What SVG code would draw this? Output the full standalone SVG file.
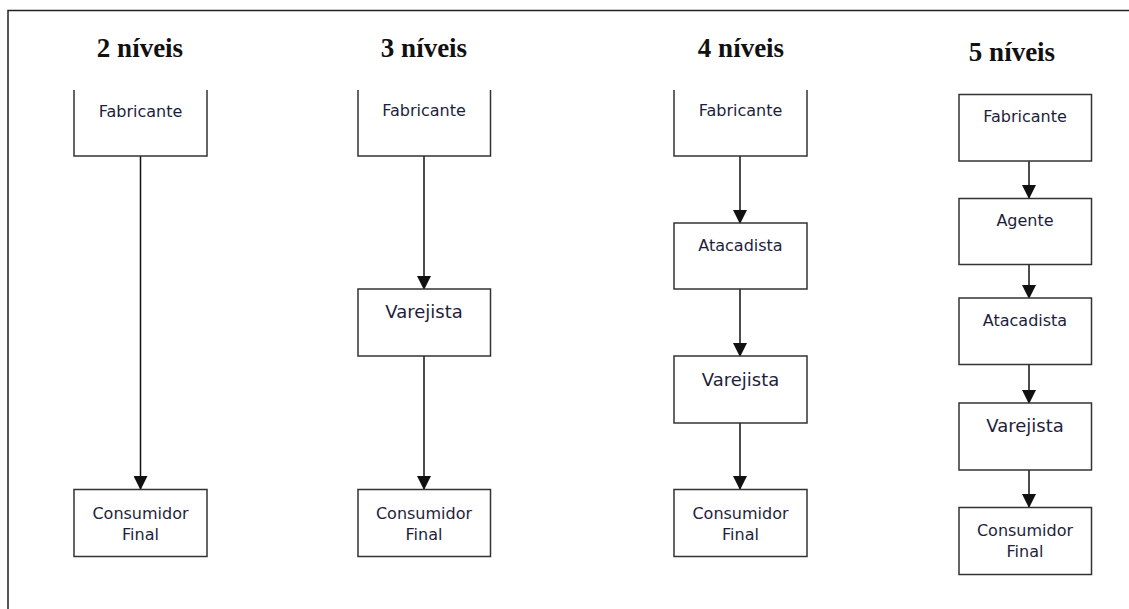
<svg xmlns="http://www.w3.org/2000/svg" width="1129" height="609" viewBox="0 0 1129 609">
<style>
.box{fill:#fff;stroke:#333;stroke-width:1.5}
.lbl{font-family:"DejaVu Sans",Verdana,sans-serif;font-size:16px;fill:#1e1e3c;text-anchor:middle}
.big{font-size:18px}
.title{font-family:"Liberation Serif","Times New Roman",serif;font-weight:bold;font-size:27px;fill:#111;text-anchor:middle}
.conn{stroke:#111;stroke-width:1.5;fill:none}
</style>
<defs>
<marker id="ah" markerUnits="userSpaceOnUse" markerWidth="14" markerHeight="14" refX="13" refY="7" orient="auto">
<path d="M0,0 L14,7 L0,14 Z" fill="#111"/>
</marker>
</defs>
<path d="M8,609 V10.5 H1129" fill="none" stroke="#222" stroke-width="1.5"/>
<g id="titles">
<text class="title" x="140" y="57">2 níveis</text>
<text class="title" x="424" y="57">3 níveis</text>
<text class="title" x="741" y="57">4 níveis</text>
<text class="title" x="1012" y="61">5 níveis</text>
</g>
<g id="connectors">
<line class="conn" x1="140.5" y1="156" x2="140.5" y2="489" marker-end="url(#ah)"/>
<line class="conn" x1="424" y1="156" x2="424" y2="289" marker-end="url(#ah)"/>
<line class="conn" x1="424" y1="356" x2="424" y2="489" marker-end="url(#ah)"/>
<line class="conn" x1="740" y1="156" x2="740" y2="223" marker-end="url(#ah)"/>
<line class="conn" x1="740" y1="289" x2="740" y2="356" marker-end="url(#ah)"/>
<line class="conn" x1="740" y1="423" x2="740" y2="489" marker-end="url(#ah)"/>
<line class="conn" x1="1029" y1="161" x2="1029" y2="198" marker-end="url(#ah)"/>
<line class="conn" x1="1029" y1="265" x2="1029" y2="298" marker-end="url(#ah)"/>
<line class="conn" x1="1029" y1="364" x2="1029" y2="403" marker-end="url(#ah)"/>
<line class="conn" x1="1029" y1="470" x2="1029" y2="507" marker-end="url(#ah)"/>
</g>
<g id="c1-fabricante"><path class="box" d="M74,90 V156 H207 V90"/><text class="lbl" x="140.5" y="117">Fabricante</text></g>
<g id="c1-consumidor"><rect class="box" x="74" y="489.5" width="133" height="67"/><text class="lbl" x="140.5" y="519">Consumidor</text><text class="lbl" x="140.5" y="540">Final</text></g>
<g id="c2-fabricante"><path class="box" d="M358,90 V156 H490.5 V90"/><text class="lbl" x="424" y="116">Fabricante</text></g>
<g id="c2-varejista"><rect class="box" x="358" y="289" width="132.5" height="67"/><text class="lbl big" x="424" y="318">Varejista</text></g>
<g id="c2-consumidor"><rect class="box" x="358" y="489.5" width="132.5" height="67"/><text class="lbl" x="424" y="519">Consumidor</text><text class="lbl" x="424" y="540">Final</text></g>
<g id="c3-fabricante"><path class="box" d="M674,90 V156 H807 V90"/><text class="lbl" x="740.5" y="116">Fabricante</text></g>
<g id="c3-atacadista"><rect class="box" x="674" y="223" width="133" height="66"/><text class="lbl" x="740.5" y="251">Atacadista</text></g>
<g id="c3-varejista"><rect class="box" x="674" y="356" width="133" height="67"/><text class="lbl big" x="740.5" y="386">Varejista</text></g>
<g id="c3-consumidor"><rect class="box" x="674" y="489.5" width="133" height="67"/><text class="lbl" x="740.5" y="519">Consumidor</text><text class="lbl" x="740.5" y="540">Final</text></g>
<g id="c4-fabricante"><rect class="box" x="959" y="94.5" width="132.5" height="66.5"/><text class="lbl" x="1025" y="122">Fabricante</text></g>
<g id="c4-agente"><rect class="box" x="959" y="198.5" width="132.5" height="66"/><text class="lbl" x="1025" y="226">Agente</text></g>
<g id="c4-atacadista"><rect class="box" x="959" y="298" width="132.5" height="66.5"/><text class="lbl" x="1025" y="326">Atacadista</text></g>
<g id="c4-varejista"><rect class="box" x="959" y="403" width="132.5" height="67"/><text class="lbl big" x="1025" y="432">Varejista</text></g>
<g id="c4-consumidor"><rect class="box" x="959" y="507.5" width="132.5" height="67"/><text class="lbl" x="1025" y="536">Consumidor</text><text class="lbl" x="1025" y="557">Final</text></g>
</svg>
